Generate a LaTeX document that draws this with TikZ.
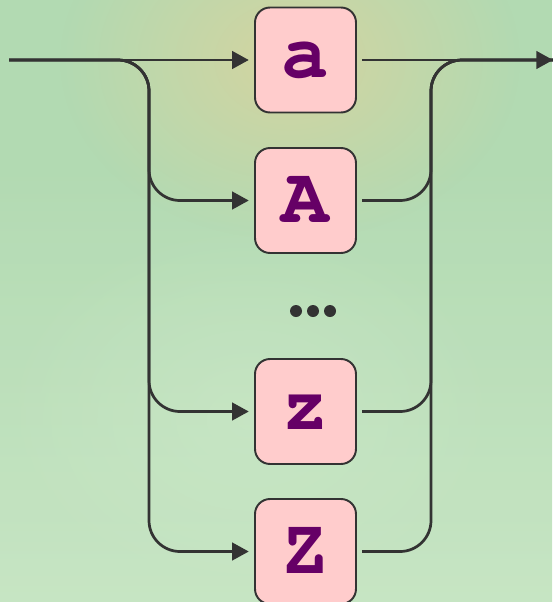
\documentclass[tikz,border=0pt]{standalone}
\usepackage[T1]{fontenc}
\usepackage{tikz}
\usetikzlibrary{arrows.meta,fadings}
\definecolor{bggreen}{RGB}{178,218,178}
\definecolor{bgbeige}{RGB}{212,212,160}
\definecolor{bgpale}{RGB}{204,232,200}
\definecolor{boxpink}{RGB}{255,204,204}
\definecolor{letterpurple}{RGB}{102,0,102}
\definecolor{wire}{RGB}{51,51,51}
\tikzfading[name=softspot, inner color=transparent!0, outer color=transparent!100]
\newcommand\codefont{\fontfamily{pcr}\fontseries{b}\selectfont}
\tikzset{
	letterbox/.style={draw=wire, line width=1.1pt, fill=boxpink, rounded corners=0.3cm,
		minimum width=2.02cm, minimum height=2.1cm, inner sep=0pt,
		text=letterpurple, font=\codefont\fontsize{45}{45}\selectfont},
	wireline/.style={draw=wire, line width=1.55pt, rounded corners=0.62cm},
	flow/.style={wireline, -{Triangle[length=9.5pt,width=10pt]}, shorten >=3pt}
}

\begin{document}
\begin{tikzpicture}[x=0.02cm, y=-0.02cm]
		%%%%% START %%%%%
		\useasboundingbox (0, 0) rectangle (552, 602);
		\fill[bggreen] (0, 0) rectangle (552, 602);
		\shade[bottom color=bgpale, top color=bggreen, opacity=0.8] (0, 150) rectangle (552, 602);
		\fill[bgbeige, path fading=softspot] (290, 60) ellipse (230 and 180);
		\fill[bgpale, path fading=softspot, opacity=0.6] (250, 420) ellipse (260 and 200);
		
		\node[letterbox] (a) at (305.5, 60) {a};
		\node[letterbox] (A) at (305.5, 200.5) {A};
		\node[letterbox] (z) at (305.5, 411.5) {z};
		\node[letterbox] (Z) at (305.5, 551.5) {Z};
		
		\foreach \x in {296, 313, 330}
			\fill[wire] (\x, 311) circle (6);
		
		\coordinate (in) at (9, 60);
		\coordinate (split) at (149, 60);
		\coordinate (join) at (431, 60);
		\coordinate (out) at (553, 60);
		
		\draw[flow] (in) -- (a.west);
		\draw[flow] (in) -- (split) |- (A.west);
		\draw[flow] (in) -- (split) |- (z.west);
		\draw[flow] (in) -- (split) |- (Z.west);
		
		\draw[flow, shorten >=0pt, shorten <=3pt] (a.east) -- (out);
		\draw[wireline, shorten <=3pt] (A.east) -| (join) -- (out);
		\draw[wireline, shorten <=3pt] (z.east) -| (join) -- (out);
		\draw[wireline, shorten <=3pt] (Z.east) -| (join) -- (out);
		%%%%% END %%%%%
\end{tikzpicture}
\end{document}
